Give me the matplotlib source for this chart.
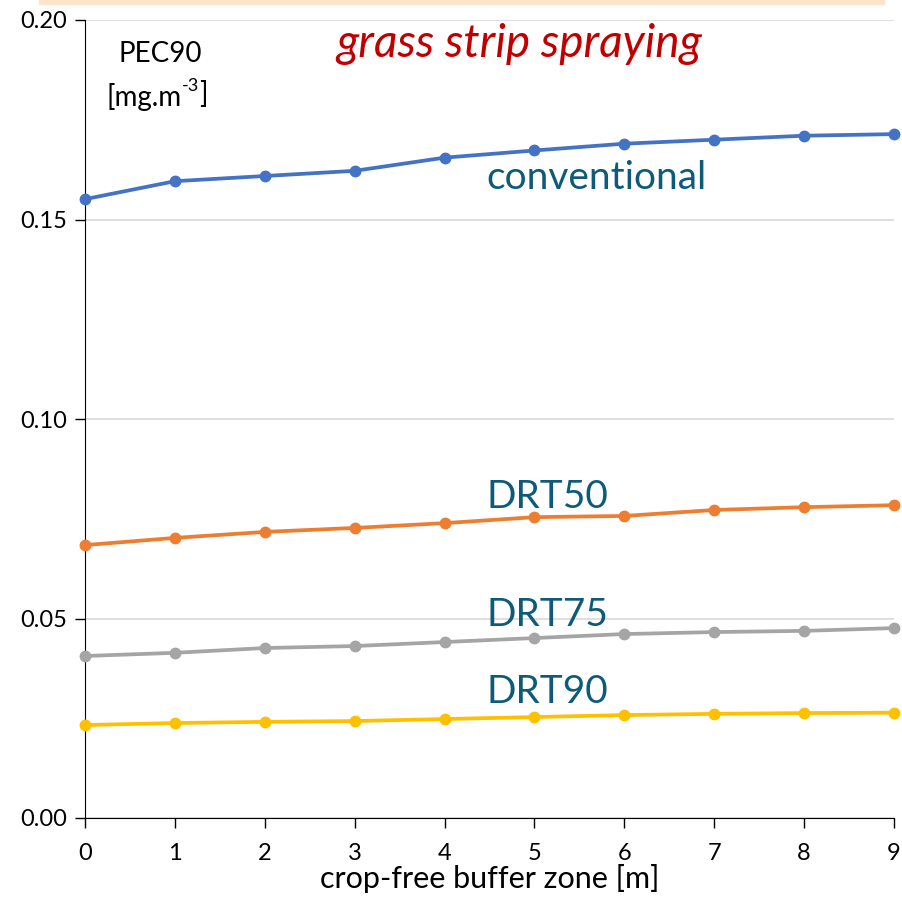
import matplotlib
matplotlib.use("Agg")
import matplotlib.pyplot as plt
from matplotlib.patches import Rectangle

# crop-free buffer zone [m]
buffer_m = [0, 1, 2, 3, 4, 5, 6, 7, 8, 9]

# PEC90 [mg.m-3] per spraying technique
conventional = [0.1551, 0.1596, 0.1609, 0.1622, 0.1655, 0.1673, 0.1690, 0.1700, 0.1710, 0.1714]
drt50 = [0.0684, 0.0702, 0.0717, 0.0727, 0.0739, 0.0754, 0.0757, 0.0772, 0.0779, 0.0784]
drt75 = [0.0406, 0.0414, 0.0426, 0.0431, 0.0441, 0.0451, 0.0461, 0.0466, 0.0469, 0.0476]
drt90 = [0.0233, 0.0238, 0.0241, 0.0243, 0.0248, 0.0253, 0.0258, 0.0261, 0.0263, 0.0264]

series = [
    ("conventional", conventional, "#4472C4"),
    ("DRT50", drt50, "#ED7D31"),
    ("DRT75", drt75, "#A5A5A5"),
    ("DRT90", drt90, "#FFC000"),
]
y_ticks = [0.00, 0.05, 0.10, 0.15, 0.20]

plt.rcParams['font.family'] = ['Lato', 'DejaVu Sans']

fig = plt.figure(figsize=(9.03, 8.98), dpi=100)
ax = fig.add_axes([85 / 903, 1 - 818 / 898, 809 / 903, 798 / 898])

# faint band at the top of the slide
fig.patches.append(Rectangle((39 / 903, 1 - 4 / 898), 845 / 903, 4 / 898,
                             transform=fig.transFigure, color="#FDE4CC", zorder=0))

for name, vals, col in series:
    ax.plot(buffer_m, vals, color=col, linewidth=2.7, marker='o', markersize=7.5,
            clip_on=False, zorder=3)

ax.set_xlim(0, 9)
ax.set_ylim(0, 0.20)
ax.set_xticks(buffer_m)
ax.set_yticks(y_ticks)
ax.set_yticklabels([f"{v:.2f}" for v in y_ticks])
ax.grid(axis='y', color="#D9D9D9", linewidth=1.2)
ax.set_axisbelow(True)
for s in ['top', 'right']:
    ax.spines[s].set_visible(False)
ax.spines['left'].set_color('black')
ax.spines['bottom'].set_color('black')
ax.tick_params(axis='both', direction='out', length=7, width=1, labelsize=17, color='black')
ax.tick_params(axis='x', pad=11)
ax.tick_params(axis='y', pad=6)

ax.set_xlabel("crop-free buffer zone [m]", fontsize=22, labelpad=0)

label_col = "#0E5B78"
ax.text(4.47, 0.1605, "conventional", color=label_col, fontsize=28, va='center', ha='left')
ax.text(4.47, 0.0805, "DRT50", color=label_col, fontsize=28, va='center', ha='left')
ax.text(4.47, 0.0510, "DRT75", color=label_col, fontsize=28, va='center', ha='left')
ax.text(4.47, 0.0315, "DRT90", color=label_col, fontsize=28, va='center', ha='left')

ax.text(0.84, 0.1916, "PEC90", color='black', fontsize=20, ha='center', va='center')
unit = ax.text(0.66, 0.1806, "[mg.m", color='black', fontsize=20, ha='center', va='center')
sup = ax.annotate("-3", xy=(1, 0.62), xycoords=unit, fontsize=13, color='black',
                  ha='left', va='bottom')
ax.annotate("]", xy=(1, 0), xycoords=sup, xytext=(0, -10), textcoords='offset points',
            fontsize=20, color='black', ha='left', va='bottom')

ax.text(4.83, 0.1940, "grass strip spraying", color="#C00000", fontsize=33,
        style='italic', ha='center', va='center')

fig.savefig("out.png", dpi=100)
